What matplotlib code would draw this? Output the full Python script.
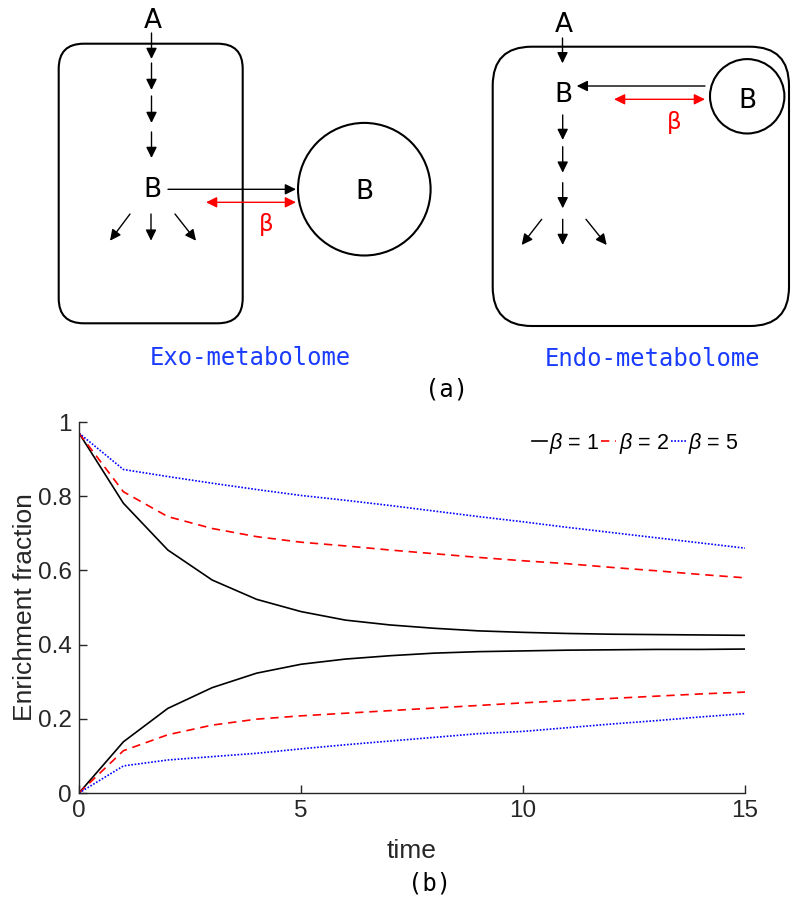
import matplotlib
matplotlib.use("Agg")
import matplotlib.pyplot as plt
from matplotlib.patches import FancyBboxPatch, Circle, FancyArrowPatch

plt.rcParams['mathtext.fontset'] = 'custom'
plt.rcParams['mathtext.it'] = 'Liberation Sans:italic'
plt.rcParams['mathtext.rm'] = 'Liberation Sans'

# ---------------- data ----------------
time = [0, 1, 2, 3, 4, 5, 6, 7, 8, 9, 10, 11, 12, 13, 14, 15]
b1_down = [0.970, 0.781, 0.655, 0.574, 0.522, 0.489, 0.466, 0.453, 0.444, 0.437, 0.433, 0.430, 0.428, 0.427, 0.426, 0.425]
b1_up = [0.0, 0.138, 0.228, 0.284, 0.323, 0.347, 0.361, 0.370, 0.377, 0.381, 0.383, 0.385, 0.386, 0.387, 0.387, 0.388]
b2_down = [0.970, 0.812, 0.745, 0.713, 0.691, 0.676, 0.666, 0.655, 0.645, 0.635, 0.626, 0.618, 0.608, 0.599, 0.589, 0.580]
b2_up = [0.0, 0.114, 0.157, 0.183, 0.199, 0.208, 0.215, 0.222, 0.229, 0.236, 0.243, 0.249, 0.255, 0.261, 0.267, 0.272]
b5_down = [0.970, 0.872, 0.853, 0.835, 0.818, 0.802, 0.789, 0.775, 0.760, 0.745, 0.731, 0.716, 0.702, 0.688, 0.674, 0.660]
b5_up = [0.0, 0.073, 0.089, 0.098, 0.107, 0.119, 0.130, 0.140, 0.150, 0.160, 0.166, 0.176, 0.186, 0.195, 0.205, 0.214]
legend_labels = [r'$\beta$ = 1', r'$\beta$ = 2', r'$\beta$ = 5']
xticks = [0, 5, 10, 15]
yticks = [0, 0.2, 0.4, 0.6, 0.8, 1]
ytick_labels = ['0', '0.2', '0.4', '0.6', '0.8', '1']

W, H = 791, 899
fig = plt.figure(figsize=(W / 100, H / 100), dpi=100)

# ---------------- diagram overlay (pixel coordinates) ----------------
d = fig.add_axes([0, 0, 1, 1])
d.set_xlim(0, W)
d.set_ylim(H, 0)
d.axis('off')

lab_font = dict(family='DejaVu Sans', fontsize=19, color='black', ha='center', va='baseline')
beta_font = dict(family='DejaVu Sans', fontsize=16.5, color='red', ha='center', va='baseline')
mono_font = dict(family='DejaVu Sans Mono', fontsize=17.2, ha='center', va='baseline')


def arrow(p0, p1, color='black', style='-|>'):
    a = FancyArrowPatch(p0, p1, arrowstyle=style + ',head_length=0.65,head_width=0.32',
                        mutation_scale=10, lw=1.0, color=color, shrinkA=0, shrinkB=0)
    d.add_patch(a)


# left: exo-metabolome
d.add_patch(FancyBboxPatch((58.7, 43.7), 184, 279.6,
                           boxstyle='round,pad=0,rounding_size=25',
                           fill=False, lw=1.5, ec='black'))
d.add_patch(Circle((364.3, 189.2), 66.3, fill=False, lw=1.5, ec='black'))
d.text(152.5, 28.5, 'A', **lab_font)
for y0, y1 in [(33, 59), (63, 90), (96, 123), (132, 158)]:
    arrow((151.5, y0), (151.5, y1))
d.text(152, 197.3, 'B', **lab_font)
d.text(364.3, 199.3, 'B', **lab_font)
arrow((168, 189.3), (296, 189.3))
arrow((206, 202.3), (296, 202.3), color='red', style='<|-|>')
d.text(265.7, 231, 'β', **beta_font)
arrow((151, 214), (151, 240.7))
arrow((130, 214), (110, 240.7))
arrow((175, 214), (196, 240.7))
d.text(250, 365, 'Exo-metabolome', color='#1a3cff', **mono_font)

# right: endo-metabolome
d.add_patch(FancyBboxPatch((492.7, 46.7), 296.3, 279.3,
                           boxstyle='round,pad=0,rounding_size=39',
                           fill=False, lw=1.5, ec='black'))
d.add_patch(Circle((747.2, 96.3), 37.2, fill=False, lw=1.5, ec='black'))
d.text(563.3, 32.5, 'A', **lab_font)
arrow((562.5, 38), (562.5, 63.3))
d.text(563.3, 101.7, 'B', **lab_font)
d.text(747.7, 108.3, 'B', **lab_font)
arrow((705, 86), (576.7, 86))
arrow((614, 99.3), (705, 99.3), color='red', style='<|-|>')
d.text(674, 128.5, 'β', **beta_font)
for y0, y1 in [(115, 140), (146.7, 172.7), (182.7, 208.3)]:
    arrow((562.7, y0), (562.7, y1))
arrow((562.7, 219.3), (562.7, 245))
arrow((541.7, 219.3), (521.7, 245))
arrow((586, 219.3), (606.7, 245))
d.text(652.3, 365.5, 'Endo-metabolome', color='#1a3cff', **mono_font)

d.text(447, 397, '(a)', color='black', **mono_font)
d.text(430, 891, '(b)', color='black', **mono_font)

# ---------------- plot (b) ----------------
ax = fig.add_axes([79 / W, 1 - 793 / H, (745 - 79) / W, (793 - 422) / H])
ax.patch.set_alpha(0)
lw = 1.2
l1, = ax.plot(time, b1_down, '-', color='black', lw=lw)
ax.plot(time, b1_up, '-', color='black', lw=lw)
l2, = ax.plot(time, b2_down, '--', color='red', lw=lw, dashes=(5, 3.5))
ax.plot(time, b2_up, '--', color='red', lw=lw, dashes=(5, 3.5))
l5, = ax.plot(time, b5_down, ':', color='blue', lw=lw, dashes=(1, 1))
ax.plot(time, b5_up, ':', color='blue', lw=lw, dashes=(1, 1))

ax.set_xlim(0, 15)
ax.set_ylim(0, 1)
ax.set_xticks(xticks)
ax.set_yticks(yticks)
ax.set_yticklabels(ytick_labels)
for s in ['top', 'right']:
    ax.spines[s].set_visible(False)
for s in ['left', 'bottom']:
    ax.spines[s].set_color('#262626')
    ax.spines[s].set_linewidth(1.0)
ax.tick_params(direction='in', length=6, width=1.0, colors='#262626',
               labelsize=17.5, pad=5)
for t in ax.get_xticklabels() + ax.get_yticklabels():
    t.set_family('Liberation Sans')
    t.set_color('#262626')
ax.set_xlabel('time', family='Liberation Sans', fontsize=19, color='#262626', labelpad=12)
ax.set_ylabel('Enrichment fraction', family='Liberation Sans', fontsize=19, color='#262626', labelpad=1)

leg = ax.legend([l1, l2, l5], legend_labels, ncol=3, frameon=False,
                loc='upper right', bbox_to_anchor=(1.003, 1.0),
                prop={'family': 'Liberation Sans', 'size': 15.5},
                handlelength=0.7, handletextpad=0.1, columnspacing=0.1,
                borderaxespad=0.0)

fig.savefig('out.png', dpi=100)
